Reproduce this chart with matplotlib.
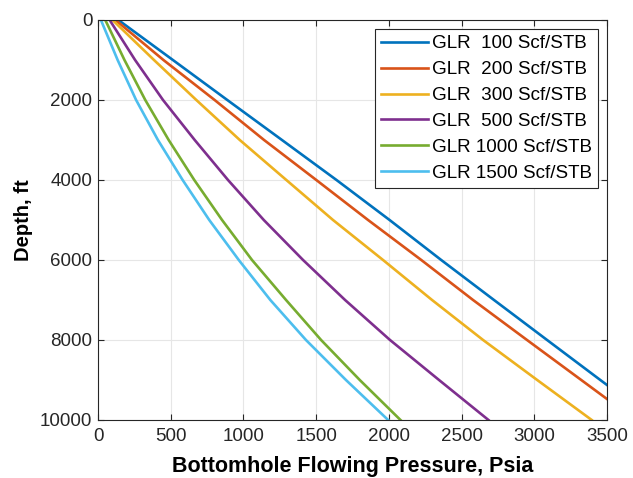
import numpy as np
import matplotlib.pyplot as plt

# depth (ft) where pressures were read
depth = [0, 1000, 2000, 3000, 4000, 5000, 6000, 7000, 8000, 9000, 10000]

# bottomhole flowing pressure (psia) for each GLR
p_glr100 = [140, 515, 889, 1265, 1640, 2005, 2360, 2723, 3088, 3454, 3500]
d_glr100 = depth[:-1] + [9125]
p_glr200 = [120, 450, 802, 1142, 1501, 1857, 2223, 2579, 2950, 3323, 3500]
d_glr200 = depth[:-1] + [9475]
p_glr300 = [100, 385, 676, 975, 1295, 1616, 1960, 2297, 2648, 3020, 3395]
p_glr500 = [80, 255, 447, 665, 894, 1140, 1410, 1699, 2008, 2345, 2685]
p_glr1000 = [50, 182, 325, 486, 662, 853, 1059, 1293, 1534, 1800, 2080]
p_glr1500 = [20, 135, 262, 412, 582, 765, 968, 1185, 1430, 1705, 1995]

labels = ['GLR  100 Scf/STB', 'GLR  200 Scf/STB', 'GLR  300 Scf/STB',
          'GLR  500 Scf/STB', 'GLR 1000 Scf/STB', 'GLR 1500 Scf/STB']
colors = ['#0072BD', '#D95319', '#EDB120', '#7E2F8E', '#77AC30', '#4DBEEE']

plt.rcParams['font.family'] = ['Liberation Sans', 'DejaVu Sans']

fig = plt.figure(figsize=(6.33, 4.78), dpi=100)
ax = fig.add_axes([98 / 633, 58 / 478, 509 / 633, 400 / 478])

series = [(p_glr100, d_glr100), (p_glr200, d_glr200), (p_glr300, depth),
          (p_glr500, depth), (p_glr1000, depth), (p_glr1500, depth)]
for (p, d), lab, c in zip(series, labels, colors):
    ax.plot(p, d, color=c, lw=1.9, label=lab)

ax.set_xlim(0, 3500)
ax.set_ylim(10000, 0)
ax.set_xticks(np.arange(0, 3501, 500))
ax.set_yticks(np.arange(0, 10001, 2000))
ax.grid(True, color='#e6e6e6', lw=0.8)
ax.set_axisbelow(True)
ax.tick_params(direction='in', top=True, right=True, length=4,
               labelsize=13.5, color='#262626', labelcolor='#262626')
ax.tick_params(axis='x', pad=6)
ax.tick_params(axis='y', pad=4)
for s in ax.spines.values():
    s.set_color('#262626')
    s.set_linewidth(0.8)

ax.set_xlabel('Bottomhole Flowing Pressure, Psia', fontsize=15.5,
              fontweight='bold', labelpad=8)
ax.set_ylabel('Depth, ft', fontsize=14.5, fontweight='bold', labelpad=5)

leg = ax.legend(loc='upper right', fontsize=13.6, fancybox=False,
                edgecolor='#262626', framealpha=1, handlelength=2.5,
                handletextpad=0.2, labelspacing=0.46, borderpad=0.3,
                borderaxespad=0.5)
leg.get_frame().set_linewidth(0.8)

fig.savefig('out.png', dpi=100)
